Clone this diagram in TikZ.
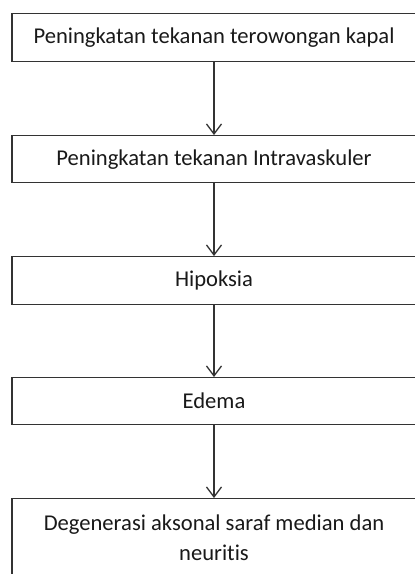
\documentclass[tikz,border=0pt]{standalone}
\usepackage{fontspec}
\setmainfont[Ligatures=NoCommon]{Carlito}
\usetikzlibrary{arrows.meta}
\begin{document}
\begin{tikzpicture}[x=1pt,y=-1pt,
  flowbox/.style={draw=black!80, line width=1.3pt, minimum width=404pt, inner sep=0pt, anchor=north, align=center, text=black!90, font=\fontsize{22.6}{30}\selectfont},
  flowarrow/.style={draw=black!80, line width=1.3pt, -{Straight Barb[length=10pt,width=15pt,line width=1.3pt]}}]
\useasboundingbox (0,0) rectangle (415,574);
\clip (0,0) rectangle (415,574);
\node[flowbox, minimum height=48pt] (b1) at (214,13) {Peningkatan tekanan terowongan kapal};
\node[flowbox, minimum height=47pt] (b2) at (214,135) {Peningkatan tekanan Intravaskuler};
\node[flowbox, minimum height=48pt] (b3) at (214,256) {Hipoksia};
\node[flowbox, minimum height=47pt] (b4) at (214,377) {Edema};
\node[flowbox, minimum height=90pt, text depth=12pt] (b5) at (214,498) {Degenerasi aksonal saraf median dan\\neuritis};
\draw[flowarrow] (b1.south) -- (b2.north);
\draw[flowarrow] (b2.south) -- (b3.north);
\draw[flowarrow] (b3.south) -- (b4.north);
\draw[flowarrow] (b4.south) -- (b5.north);
\end{tikzpicture}
\end{document}
